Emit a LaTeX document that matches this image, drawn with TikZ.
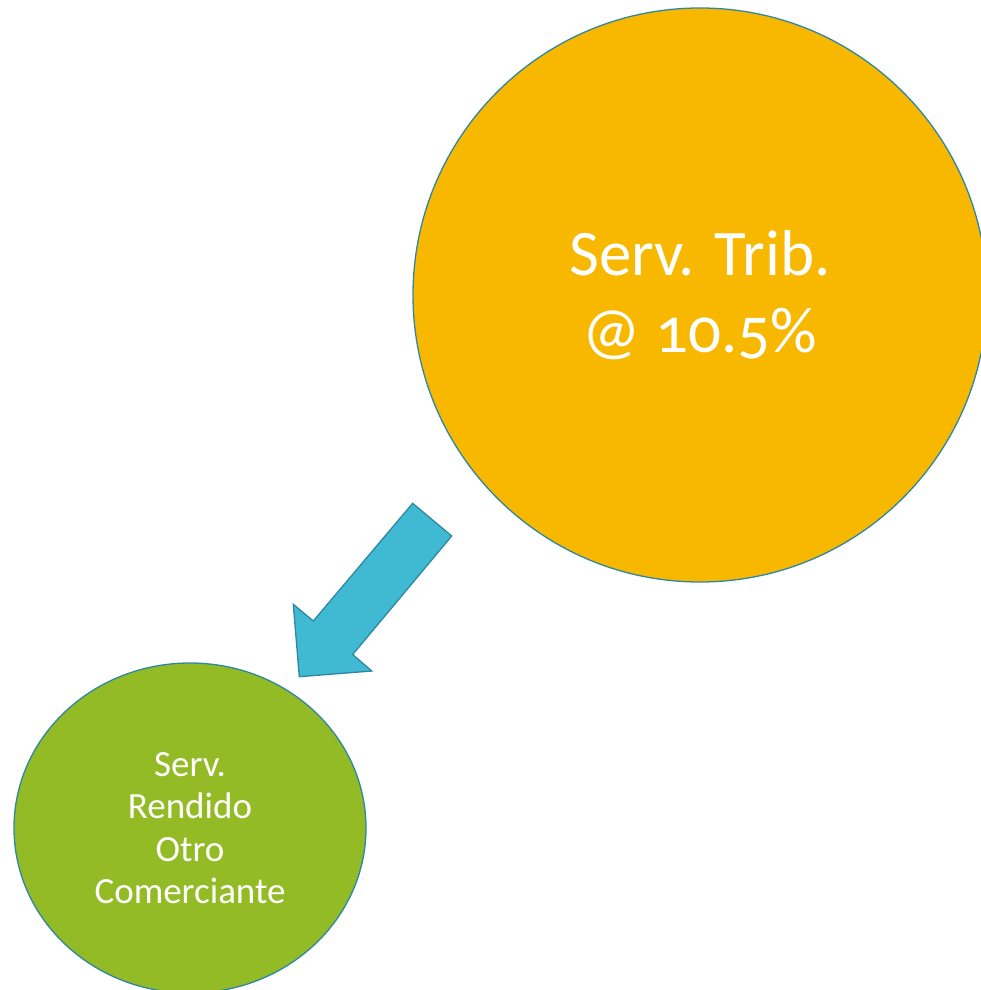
\documentclass[tikz,border=0pt]{standalone}
\usepackage{fontspec}
\setmainfont[Numbers=OldStyle]{Carlito}
\usepackage{tikz}
\usetikzlibrary{shapes.geometric}
\definecolor{trib}{HTML}{F8B800}
\definecolor{rendido}{HTML}{93BB25}
\definecolor{flecha}{HTML}{40BAD2}
\definecolor{borde}{HTML}{2E87A2}
\tikzset{
% Two bubble styles: big tax circle and small green one
trib node/.style={circle,draw=borde,line width=1.3pt,fill=trib,text=white,
  minimum size=574pt,inner sep=0,align=center,font=\fontsize{65}{77}\selectfont},
rendido node/.style={ellipse,draw=borde,line width=1.3pt,fill=rendido,text=white,
  minimum width=352pt,minimum height=330pt,inner sep=0,align=center,
  font=\fontsize{37}{42.5}\selectfont},
flecha arrow/.style={fill=flecha,draw=borde,line width=1.3pt,line join=miter}
}
\begin{document}
\begin{tikzpicture}[x=1pt,y=-1pt]
\useasboundingbox (0,0) rectangle (981,990);
\clip (0,0) rectangle (981,990);
% The bubbles
\node(trib)[trib node] at (700,295) {Serv. Trib.\\@ 10.5\%};
\node(rendido)[rendido node] at (190,828) {Serv.\\Rendido\\Otro\\Comerciante};
% block arrow from one to the other
\coordinate(t1) at (412.7,503.3);
\coordinate(t2) at (451.7,536);
\coordinate(s2) at (352.7,654.5);
\coordinate(h2) at (371.7,671);
\coordinate(tip) at (299.3,676.7);
\coordinate(h1) at (293.3,604.3);
\coordinate(s1) at (313.3,621);
\draw[flecha arrow](t1)--(t2)--(s2)--(h2)--(tip)--(h1)--(s1)--cycle;
\end{tikzpicture}
\end{document}
